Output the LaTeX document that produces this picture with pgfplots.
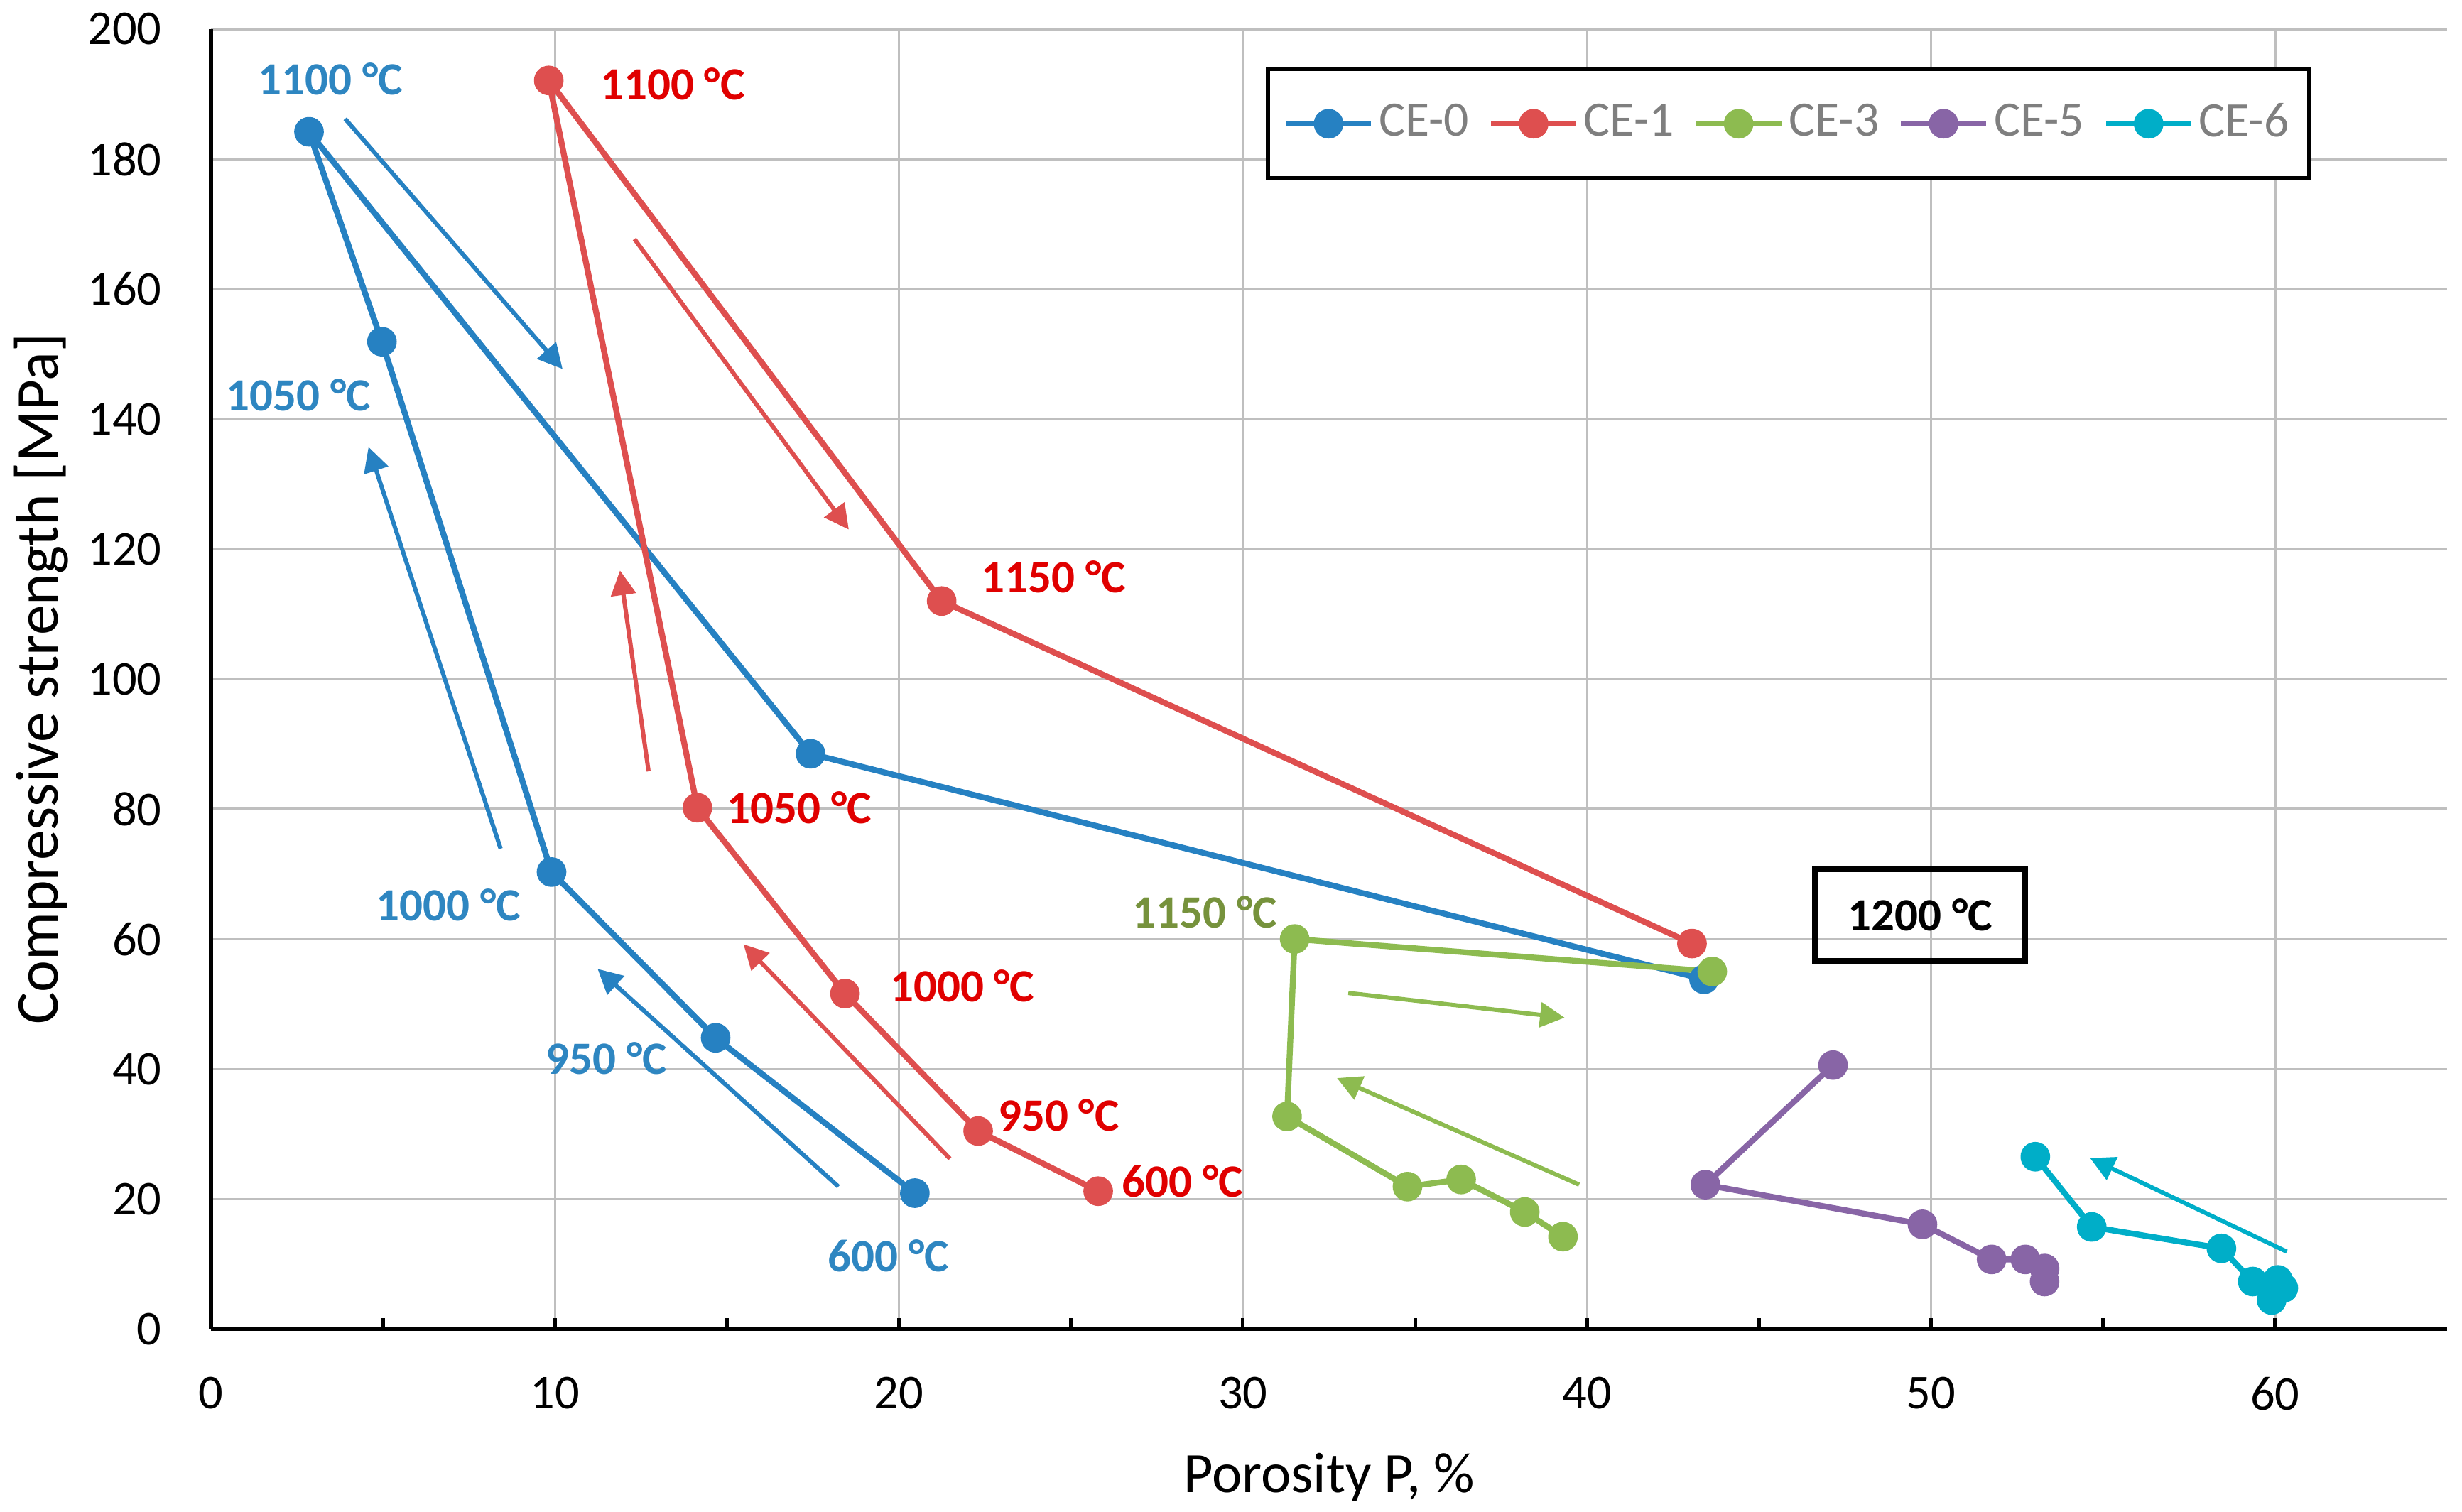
\documentclass[border=0pt]{standalone}
\usepackage{fontspec}
\setmainfont{Carlito}
\usepackage{pgfplots}
\pgfplotsset{compat=1.18}
\usetikzlibrary{arrows.meta}
\definecolor{ce0}{HTML}{2681C2}
\definecolor{ce1}{HTML}{DE4F4F}
\definecolor{ce3}{HTML}{8DBB50}
\definecolor{ce5}{HTML}{8865A6}
\definecolor{ce6}{HTML}{00AEC8}
\definecolor{t0}{HTML}{2E86C1}
\definecolor{t1}{HTML}{E00000}
\definecolor{t3}{HTML}{76923C}
\definecolor{gridgray}{HTML}{BFBFBF}
\definecolor{leggray}{HTML}{7F7F7F}
\begin{document}
\begin{tikzpicture}
\begin{axis}[
  scale only axis, width=472.3bp, height=274.6bp,
  xmin=0, xmax=65, ymin=0, ymax=200,
  xtick={0,10,...,60}, minor xtick={5,15,...,55},
  ytick={0,20,...,200},
  grid=major, major grid style={color=gridgray, line width=0.5bp},
  axis x line*=bottom, axis y line*=left,
  axis line style={black, line width=0.8bp},
  tick align=inside, major tick length=2.35bp, minor tick length=2.35bp,
  xtick style={black, line width=0.75bp},
  ytick style={draw=none},
  /pgf/number format/assume math mode=true,
  tick label style={font=\fontsize{10.3}{12}\selectfont, black},
  xticklabel style={yshift=-6.65bp},
  yticklabel style={xshift=-6.9bp},
  xlabel={Porosity P, \%},
  ylabel={Compressive strength [MPa]},
  xlabel style={font=\fontsize{12.1}{14}\selectfont, black, at={([yshift=-34.5bp]axis description cs:0.5,0)}, anchor=base},
  ylabel style={font=\fontsize{12.8}{14}\selectfont, black, at={([xshift=-32.3bp]axis description cs:0,0.5)}, anchor=base, rotate=0},
  legend columns=5,
  legend style={at={(0.4717,0.971)}, anchor=north west, draw=black, line width=0.9bp,
    font=\fontsize{10.5}{12}\selectfont, text=leggray, inner xsep=3.2bp, inner ysep=6.3bp,
    nodes={inner sep=1bp}, /tikz/every even column/.append style={column sep=3bp}},
  legend image code/.code={\draw[#1, mark repeat=2, mark phase=2] plot coordinates {(0bp,0bp) (9bp,0bp) (18bp,0bp)};},
  every axis plot/.append style={line width=1.25bp, line join=round, mark=*, mark size=2.5bp},
]
\addplot[color=ce0, mark options={solid, fill=ce0, draw=ce0}] coordinates {
 (20.46,20.9) (14.67,44.8) (9.9,70.3) (4.97,151.9) (2.85,184.2) (17.43,88.5) (43.4,53.8)};
\addlegendentry{CE-0}
\addplot[color=ce1, mark options={solid, fill=ce1, draw=ce1}] coordinates {
 (25.79,21.2) (22.3,30.45) (18.43,51.6) (14.14,80.2) (9.82,192.1) (21.24,112) (43.05,59.3)};
\addlegendentry{CE-1}
\addplot[color=ce3, mark options={solid, fill=ce3, draw=ce3}] coordinates {
 (39.3,14.2) (38.19,18.0) (36.34,23.0) (34.78,21.9) (31.28,32.7) (31.5,60) (43.64,55.0)};
\addlegendentry{CE-3}
\addplot[color=ce5, mark options={solid, fill=ce5, draw=ce5}] coordinates {
 (53.3,7.3) (53.3,9.3) (52.74,10.7) (51.76,10.7) (49.75,16.1) (43.44,22.2) (47.15,40.6)};
\addlegendentry{CE-5}
\addplot[color=ce6, mark options={solid, fill=ce6, draw=ce6}] coordinates {
 (59.9,4.45) (60.24,6.3) (60.08,7.55) (59.35,7.3) (58.44,12.4) (54.67,15.7) (53.03,26.5)};
\addlegendentry{CE-6}
% arrows
\addplot[forget plot, no marks, color=ce0, line width=0.9bp, -{Triangle[length=5.2bp,width=5.2bp]}] coordinates {(3.9,186.2) (10.22,147.7)};
\addplot[forget plot, no marks, color=ce0, line width=0.9bp, -{Triangle[length=5.2bp,width=5.2bp]}] coordinates {(8.42,73.9) (4.58,135.7)};
\addplot[forget plot, no marks, color=ce0, line width=0.9bp, -{Triangle[length=5.2bp,width=5.2bp]}] coordinates {(18.24,21.9) (11.24,55.4)};
\addplot[forget plot, no marks, color=ce1, line width=0.9bp, -{Triangle[length=5.2bp,width=5.2bp]}] coordinates {(12.31,167.7) (18.54,123.0)};
\addplot[forget plot, no marks, color=ce1, line width=0.9bp, -{Triangle[length=5.2bp,width=5.2bp]}] coordinates {(12.72,85.8) (11.89,116.7)};
\addplot[forget plot, no marks, color=ce1, line width=0.9bp, -{Triangle[length=5.2bp,width=5.2bp]}] coordinates {(21.48,26.2) (15.48,59.2)};
\addplot[forget plot, no marks, color=ce3, line width=0.9bp, -{Triangle[length=5.2bp,width=5.2bp]}] coordinates {(33.06,51.7) (39.35,47.9)};
\addplot[forget plot, no marks, color=ce3, line width=0.9bp, -{Triangle[length=5.2bp,width=5.2bp]}] coordinates {(39.77,22.2) (32.73,38.6)};
\addplot[forget plot, no marks, color=ce6, line width=0.9bp, -{Triangle[length=5.2bp,width=5.2bp]}] coordinates {(60.34,11.9) (54.62,26.3)};
% labels
\begin{scope}[every node/.style={font=\bfseries\fontsize{9.8}{11}\selectfont, inner sep=0pt}]
\node[text=t0] at (axis cs:3.47,192.3) {1100 °C};
\node[text=t0] at (axis cs:2.55,143.7) {1050 °C};
\node[text=t0] at (axis cs:6.9,65.2) {1000 °C};
\node[text=t0] at (axis cs:11.5,41.6) {950 °C};
\node[text=t0] at (axis cs:19.7,11.3) {600 °C};
\node[text=t1] at (axis cs:13.42,191.6) {1100 °C};
\node[text=t1] at (axis cs:24.49,115.7) {1150 °C};
\node[text=t1] at (axis cs:17.1,80.2) {1050 °C};
\node[text=t1] at (axis cs:21.84,52.8) {1000 °C};
\node[text=t1] at (axis cs:24.64,32.86) {950 °C};
\node[text=t1] at (axis cs:28.25,22.77) {600 °C};
\node[text=t3] at (axis cs:28.9,64.1) {1150 °C};
\node[text=black, draw=black, line width=1.3bp, minimum width=44.2bp, minimum height=19.4bp] at (axis cs:49.68,63.7) {1200 °C};
\end{scope}
\coordinate (SW) at (rel axis cs:0,0);
\coordinate (NE) at (rel axis cs:1,1);
\end{axis}
\pgfresetboundingbox
\path[use as bounding box] ([shift={(-44.56bp,-38.6bp)}]SW) rectangle ([shift={(3.15bp,6.15bp)}]NE);
\end{tikzpicture}
\end{document}
